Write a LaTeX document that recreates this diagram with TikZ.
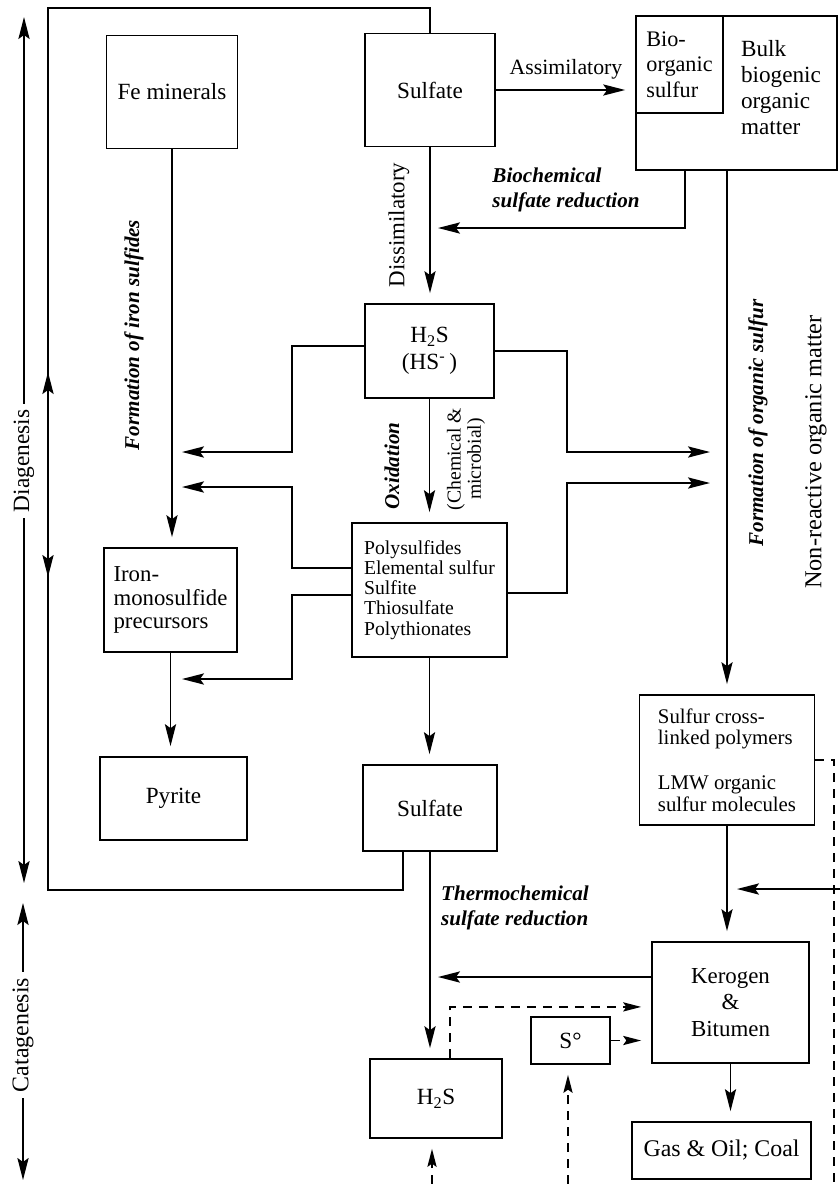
\documentclass[tikz,border=0pt]{standalone}
\usepackage{fontspec}
\setmainfont{Liberation Serif}
\usetikzlibrary{arrows.meta,positioning}

\begin{document}
\begin{tikzpicture}[x=0.25mm, y=0.25mm,
      boite/.style={draw, line width=1.2pt, inner sep=0pt, align=center,
                    font=\fontsize{16.5}{18.5}\selectfont},
      lien/.style={-{Stealth[length=5.5mm, width=2.8mm, inset=1mm]}, line width=1.1pt},
      lienb/.style={lien, shorten >=2.5mm},
      lienbi/.style={{Stealth[length=5.5mm, width=2.8mm, inset=1mm]}-{Stealth[length=5.5mm, width=2.8mm, inset=1mm]}, line width=1.1pt},
      trait/.style={line width=1.1pt},
      tiret/.style={line width=1.1pt, dash pattern=on 2.2mm off 1.8mm},
      tiretf/.style={tiret, -{Stealth[length=4.5mm, width=2.3mm, inset=0.8mm]}, shorten >=2.5mm},
      etiq/.style={inner sep=0pt, font=\fontsize{15.5}{17.5}\selectfont},
      proc/.style={inner sep=0pt, align=left, font=\fontsize{15}{17.5}\selectfont\bfseries\itshape},
      vert/.style={rotate=90}]
    \useasboundingbox (0,0) rectangle (840,-1184);

    % boites
    \node[boite, minimum width=32.75mm, minimum height=28.25mm] (fe) at (172,-92) {Fe minerals};
    \node[boite, minimum width=32.5mm, minimum height=28.25mm] (sulf1) at (430,-90) {Sulfate};
    \node[boite, minimum width=50.25mm, minimum height=38.5mm] (org) at (736.5,-93) {};
    \node[boite, anchor=north west, minimum width=21.75mm, minimum height=24.25mm,
          align=left, font=\fontsize{15.8}{18}\selectfont] (bio) at (org.north west) {Bio-\\organic\\sulfur};
    \node[inner sep=0pt, align=left, font=\fontsize{16.5}{18.5}\selectfont] (bulk) at (781,-88)
          {Bulk\\biogenic\\organic\\matter};
    \node[boite, minimum width=32.25mm, minimum height=23.5mm, font=\fontsize{16.5}{19.5}\selectfont]
          (hs) at (429.5,-351) {H\textsubscript{2}S\\(HS\textsuperscript{-}\,)};
    \node[boite, minimum width=38.75mm, minimum height=33.5mm, align=left, font=\fontsize{14}{14.3}\selectfont]
          (poly) at (429.5,-590) {Polysulfides\\Elemental sulfur\\Sulfite\\Thiosulfate\\Polythionates};
    \node[boite, minimum width=33.25mm, minimum height=26mm, align=left, font=\fontsize{16.2}{16.8}\selectfont]
          (fes) at (170.5,-600) {Iron-\\monosulfide\\precursors};
    \node[boite, minimum width=36.75mm, minimum height=20.75mm] (pyr) at (173.5,-798.5) {Pyrite};
    \node[boite, minimum width=33.5mm, minimum height=21.5mm] (sulf2) at (430,-808) {Sulfate};
    \node[boite, minimum width=43.75mm, minimum height=32.5mm, align=left, font=\fontsize{14.8}{15.4}\selectfont]
          (osc) at (727,-760) {Sulfur cross-\\linked polymers\\[5.75mm]LMW organic\\sulfur molecules};
    \node[boite, minimum width=39.25mm, minimum height=30.25mm, font=\fontsize{16.3}{19}\selectfont]
          (ker) at (730.5,-1002.5) {Kerogen\\\&\\Bitumen};
    \node[boite, minimum width=44.75mm, minimum height=14.25mm, font=\fontsize{17}{19}\selectfont]
          (gas) at (721.5,-1150.5) {Gas \& Oil; Coal};
    \node[boite, minimum width=33mm, minimum height=19.75mm] (hsb) at (436,-1098.5) {H\textsubscript{2}S};
    \node[boite, minimum width=19.75mm, minimum height=11.75mm] (szero) at (570.5,-1040.5) {S°};

    % axes
    \node[vert, inner sep=1.5mm, font=\fontsize{16.6}{18}\selectfont] (diag) at (24,-461) {Diagenesis};
    \node[vert, inner sep=1.5mm, font=\fontsize{17}{18}\selectfont] (cata) at (23,-1035) {Catagenesis};
    \coordinate (dgh) at (24,-17);
    \coordinate (dgb) at (24,-883);
    \coordinate (cth) at (23,-903);
    \coordinate (ctb) at (23,-1180);
    \draw[lien] (diag.east) -- (dgh);
    \draw[lien] (diag.west) -- (dgb);
    \draw[lien] (cata.east) -- (cth);
    \draw[lien] (cata.west) -- (ctb);

    % boucle du sulfate
    \coordinate (bclb) at (48,-890);
    \coordinate (bclh) at (48,-8);
    \coordinate (bcdn) at (48,-577);
    \coordinate (bcup) at (48,-372);
    \draw[trait] ([xshift=-6.75mm]sulf2.south) |- (bclb) -- (bclh) -| (sulf1.north);
    \draw[lienbi] (bcdn) -- (bcup);

    % diagenese
    \draw[lienb] (sulf1.east) -- (sulf1.east -| org.west);
    \node[etiq] (lass) at (566,-69) {Assimilatory};
    \draw[lienb] (sulf1.south) -- (sulf1.south |- hs.north);
    \node[etiq, vert, font=\fontsize{16.3}{18}\selectfont] (ldis) at (399,-225) {Dissimilatory};
    \coordinate (bsr) at (438,-228);
    \draw[lien] ([xshift=-12.875mm]org.south) |- (bsr);
    \node[proc] (lbsr) at (566,-190) {Biochemical\\sulfate reduction};
    \draw[lienb] (osc.north |- org.south) -- (osc.north);
    \node[proc, vert] (lfos) at (758,-423) {Formation of organic sulfur};
    \node[etiq, vert, font=\fontsize{17.3}{20}\selectfont] (lnro) at (816,-452) {Non-reactive organic matter};

    \coordinate (ga) at (182,-452);
    \coordinate (gb) at (182,-487);
    \coordinate (gc) at (182,-679);
    \coordinate (da) at (710,-452);
    \coordinate (db) at (710,-483);
    \draw[lien] ([yshift=1.25mm]hs.west) -- ++(-72,0) |- (ga);
    \draw[lien] (hs.east) -- ++(72,0) |- (da);
    \draw[lien] ([yshift=5.5mm]poly.west) -- ++(-59,0) |- (gb);
    \draw[lien] ([yshift=-1.25mm]poly.west) -- ++(-59,0) |- (gc);
    \draw[lien] ([yshift=-0.75mm]poly.east) -- ++(59,0) |- (db);

    \draw[lienb] (hs.south) -- (hs.south |- poly.north);
    \node[proc, vert] (lox) at (392,-466) {Oxidation};
    \node[vert, inner sep=0pt, align=center, font=\fontsize{14}{14.5}\selectfont] (lchm) at (466,-459)
          {(Chemical \&\\microbial)};

    \draw[lienb] (fe.south) -- (fe.south |- fes.north);
    \node[proc, vert] (lfis) at (134,-335) {Formation of iron sulfides};
    \draw[lienb] (fes.south) -- (fes.south |- pyr.north);
    \draw[lienb] (poly.south) -- (poly.south |- sulf2.north);

    % catagenese
    \draw[lienb] (sulf2.south) -- (sulf2.south |- hsb.north);
    \node[proc] (ltsr) at (515,-908) {Thermochemical\\sulfate reduction};
    \coordinate (tsr) at (438,-977);
    \draw[lien] (ker.west |- tsr) -- (tsr);
    \draw[tiretf] ([xshift=3.5mm]hsb.north) |- ([yshift=-1.1mm]ker.west);
    \draw[tiretf] (szero.east) -- (szero.east -| ker.west);
    \coordinate (bas1) at (432,-1184);
    \coordinate (bas2) at (568,-1184);
    \coordinate (bas3) at (834,-1184);
    \draw[tiretf] (bas1) -- (bas1 |- hsb.south);
    \draw[tiretf] (bas2) -- (bas2 |- szero.south);
    \draw[tiret] (osc.east) -| (bas3);
    \coordinate (bord) at (840,-889);
    \coordinate (okc) at (737,-889);
    \draw[lien] (bord) -- (okc);
    \draw[lienb] (osc.south) -- (osc.south |- ker.north);
    \draw[lienb] (ker.south) -- (ker.south |- gas.north);
  \end{tikzpicture}
\end{document}
